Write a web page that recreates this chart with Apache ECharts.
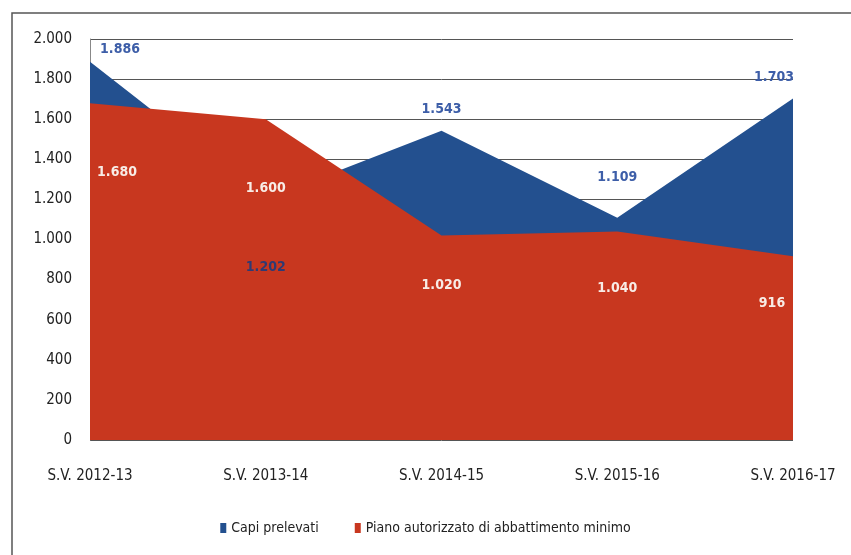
<!DOCTYPE html>
<html>
<head>
<meta charset="utf-8">
<script src="https://cdn.jsdelivr.net/npm/echarts@6/dist/echarts.min.js"></script>
<style>
  html, body { margin: 0; padding: 0; background: #fff; }
  #chart { width: 851px; height: 555px; }
</style>
</head>
<body>
<div id="chart"></div>
<script>
"use strict";

const categories = ["S.V. 2012-13", "S.V. 2013-14", "S.V. 2014-15", "S.V. 2015-16", "S.V. 2016-17"];
const capiPrelevati = [1886, 1202, 1543, 1109, 1703];
const pianoMinimo = [1680, 1600, 1020, 1040, 916];
const seriesNames = ["Capi prelevati", "Piano autorizzato di abbattimento minimo"];

// label offsets (px) relative to each point, as in the Excel original
const blueLabelOffsets = [[30, -12], [0, 68], [0, -21], [0, -40], [-19, -21]];
const redLabelOffsets = [[27, 69], [0, 69], [0, 50], [0, 57], [-21, 47]];

const fmt = (v) => String(v).replace(/\B(?=(\d{3})+(?!\d))/g, ".");
const font = "'Liberation Sans Narrow', 'DejaVu Sans Condensed', sans-serif";

const BLUE = "#23508f";
const RED = "#c8371f";

const chart = echarts.init(document.getElementById("chart"));

/**
 * @param {number[]} values
 * @param {number[][]} offsets
 * @param {(i: number) => string} colorAt
 */
const withLabels = (values, offsets, colorAt) =>
  values.map((v, i) => ({
    value: v,
    label: { offset: offsets[i], color: colorAt(i) },
  }));

const labelBase = {
  show: true,
  position: "inside",
  fontFamily: font,
  fontSize: 14,
  fontWeight: "bold",
  formatter: (p) => fmt(p.value),
};

chart.setOption({
  backgroundColor: "#fff",
  animation: false,
  graphic: [
    {
      type: "rect",
      shape: { x: 12, y: 13, width: 900, height: 700 },
      style: { fill: "none", stroke: "#555", lineWidth: 1.5 },
      z: 100,
      silent: true,
    },
  ],
  grid: { left: 90, right: 58, top: 39, bottom: 115 },
  legend: {
    bottom: 15,
    left: "center",
    itemWidth: 6,
    itemHeight: 10,
    itemGap: 36,
    icon: "rect",
    textStyle: { fontFamily: font, fontSize: 14, color: "#222" },
    data: seriesNames,
  },
  xAxis: {
    type: "category",
    data: categories,
    boundaryGap: false,
    axisLine: { show: false },
    axisTick: { show: false },
    axisLabel: {
      margin: 29,
      fontFamily: font,
      fontSize: 15,
      color: "#222",
      interval: 0,
    },
  },
  yAxis: {
    type: "value",
    min: 0,
    max: 2000,
    interval: 200,
    axisLine: { show: true, lineStyle: { color: "#888", width: 1 } },
    axisTick: { show: false },
    splitLine: { lineStyle: { color: "#555", width: 1 } },
    axisLabel: {
      margin: 18,
      fontFamily: font,
      fontSize: 15,
      color: "#222",
      formatter: (v) => fmt(v),
    },
  },
  series: [
    {
      name: seriesNames[0],
      type: "line",
      data: capiPrelevati,
      symbol: "none",
      lineStyle: { width: 0 },
      itemStyle: { color: BLUE },
      areaStyle: { color: BLUE, opacity: 1 },
      z: 2,
    },
    {
      name: seriesNames[1],
      type: "line",
      data: withLabels(pianoMinimo, redLabelOffsets, () => "#f8ece6"),
      symbol: "circle",
      symbolSize: 0,
      lineStyle: { width: 0 },
      itemStyle: { color: RED },
      areaStyle: { color: RED, opacity: 1 },
      label: labelBase,
      z: 3,
    },
    {
      // labels of "Capi prelevati", kept above the red area
      name: "capi-labels",
      type: "line",
      data: withLabels(capiPrelevati, blueLabelOffsets, (i) => (i === 1 ? "#2f3a73" : "#3d5ea8")),
      symbol: "circle",
      symbolSize: 0,
      lineStyle: { width: 0, opacity: 0 },
      itemStyle: { color: BLUE },
      label: labelBase,
      silent: true,
      z: 4,
    },
  ],
});
</script>
</body>
</html>
